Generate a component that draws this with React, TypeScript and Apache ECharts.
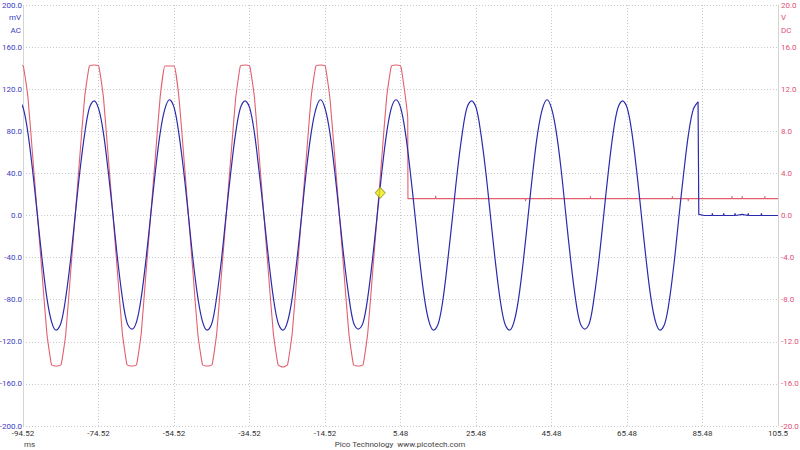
import React, { useEffect, useRef } from "react";
import * as echarts from "echarts";

// Time axis (ms)
const X_MIN = -94.52;
const X_MAX = 105.48;
const X_INTERVAL = 20;

// Channel A (blue, mV, AC) – samples every 1.25 ms starting at -95.7 ms
const BLUE_START = -95.7;
const BLUE_STEP = 1.25;
const blueValues = [
  110, 102, 78, 42, 0, -42, -78, -101, -109, -102, -78, -43, 0, 42, 77, 102,
  109, 101, 78, 42, 1, -42, -78, -102, -108, -101, -78, -42, 0, 42, 78, 101,
  110, 102, 77, 42, 0, -43, -78, -101, -109, -102, -77, -42, 1, 42, 78, 102,
  109, 102, 78, 41, 0, -42, -78, -102, -109, -101, -78, -42, 0, 43, 78, 101,
  110, 101, 78, 42, 0, -42, -77, -102, -108, -102, -78, -42, 0, 42, 78, 102,
  110, 102, 78, 42, 1, -42, -78, -101, -109, -102, -78, -41, 0, 42, 77, 102,
  109, 102, 77, 42, 0, -42, -78, -102, -109, -101, -78, -42, 0, 42, 78, 101,
  110, 101, 78, 43, 0, -42, -78, -102, -108, -102, -77, -42, 0, 42, 78, 102,
  109, 102, 78, 42, 0, -42, -78, -101, -109, -102, -78, -42, 1, 42, 78, 101,
  108,
];
// Channel A after the cut-off
const blueTailTimes = [84.42, 84.5, 86, 88, 88.1, 88.2, 90, 91, 91.1, 91.2, 93, 94, 94.1, 94.2, 96, 97.5, 97.6, 97.7, 99, 101, 101.1, 101.2, 103, 105.48];
const blueTailValues = [108, 1, 0, 0, 2, 0, 0, 0, 2, 0, 0, 0, 2, 0, 1, 0, 2, 0, 0, 0, 2, 0, 0, 0];

// Channel B (red, V, DC) – samples every 1.25 ms starting at -95.7 ms
const RED_START = -95.7;
const RED_STEP = 1.25;
const redValues = [
  14.3, 14.2, 11.2, 5.6, 0, -5.6, -11.2, -14.2, -14.3, -14.2, -11.3, -5.6, 0, 5.7, 11.2, 14.2,
  14.3, 14.2, 11.2, 5.6, 0.1, -5.6, -11.2, -14.2, -14.3, -14.2, -11.2, -5.5, 0, 5.6, 11.2, 14.2,
  14.2, 14.2, 11.2, 5.7, 0, -5.6, -11.3, -14.2, -14.3, -14.2, -11.2, -5.6, 0, 5.6, 11.1, 14.2,
  14.3, 14.2, 11.2, 5.6, 0, -5.7, -11.2, -14.2, -14.4, -14.2, -11.2, -5.6, 0.1, 5.6, 11.2, 14.2,
  14.3, 14.2, 11.1, 5.6, 0, -5.6, -11.2, -14.2, -14.3, -14.2, -11.2, -5.6, 0, 5.6, 11.2, 14.2,
  14.3, 14.2, 11.2,
];
// Channel B after the step
const redTailTimes = [
  7.4, 7.45, 14.7, 14.8, 14.9, 38.5, 38.6, 38.7, 55.7, 55.8, 55.9, 77.4, 77.5, 77.6,
  81.6, 81.7, 81.8, 93.2, 93.3, 93.4, 95.9, 96.0, 96.1, 101.9, 102.0, 102.1, 105.48,
];
const redTailValues = [
  9.2, 1.6, 1.6, 1.85, 1.6, 1.6, 1.4, 1.6, 1.6, 1.8, 1.6, 1.6, 1.8, 1.6,
  1.6, 1.4, 1.6, 1.6, 1.8, 1.6, 1.6, 1.8, 1.6, 1.6, 1.8, 1.6, 1.6,
];

// Trigger marker
const triggerTime = 0.1;
const triggerValue = 21.5;

// Axis ranges
const MV_MIN = -200;
const MV_MAX = 200;
const MV_INTERVAL = 40;
const V_MIN = -20;
const V_MAX = 20;
const V_INTERVAL = 4;

const BLUE = "#2a2aac";
const RED = "#e2606e";
const BLUE_LABEL = "#3b3bbf";
const RED_LABEL = "#df4f74";
const FONT = "Roboto";
const FS = 8;

function buildSampled(start: number, step: number, values: number[]) {
  return values.map((v, i) => [start + i * step - X_MIN, v]);
}
function buildPairs(times: number[], values: number[]) {
  return times.map((t, i) => [t - X_MIN, values[i]]);
}

export default function App() {
  const ref = useRef<HTMLDivElement>(null);
  useEffect(() => {
    if (!ref.current) return;
    const chart = echarts.init(ref.current, undefined, { renderer: "svg" });
    const blueData = buildSampled(BLUE_START, BLUE_STEP, blueValues);
    const blueTail = buildPairs(blueTailTimes, blueTailValues);
    const redData = buildSampled(RED_START, RED_STEP, redValues).concat(
      buildPairs(redTailTimes, redTailValues)
    );
    const gridColor = "#c9c9c9";
    const font = `${FS}px ${FONT}`;
    chart.setOption({
      animation: false,
      backgroundColor: "#ffffff",
      textStyle: { fontFamily: FONT },
      grid: {
        left: 23,
        right: 22,
        top: 5,
        bottom: 24,
        containLabel: false,
        outerBoundsMode: "none",
      },
      xAxis: {
        type: "value",
        min: 0,
        max: X_MAX - X_MIN,
        interval: X_INTERVAL,
        axisLine: { show: false },
        axisTick: { show: false },
        axisLabel: {
          color: "#333",
          fontSize: FS,
          lineHeight: 9,
          fontFamily: FONT,
          margin: 3,
          showMinLabel: true,
          showMaxLabel: true,
          formatter: (v: number) => {
            const t = v + X_MIN;
            if (Math.abs(t - X_MAX) < 0.001) return t.toFixed(1);
            return t.toFixed(2);
          },
        },
        splitLine: { show: true, lineStyle: { color: gridColor, type: [1, 2], width: 1 } },
      },
      yAxis: [
        {
          type: "value",
          position: "left",
          min: MV_MIN,
          max: MV_MAX,
          interval: MV_INTERVAL,
          axisLine: { show: true, lineStyle: { color: "#d4d4d4" } },
          axisTick: { show: false },
          axisLabel: {
            color: BLUE_LABEL,
            fontSize: FS,
            lineHeight: 9,
            fontFamily: FONT,
            margin: 1,
            showMinLabel: true,
            showMaxLabel: true,
            formatter: (v: number) => v.toFixed(1),
          },
          splitLine: { show: true, lineStyle: { color: gridColor, type: [1, 2], width: 1 } },
        },
        {
          type: "value",
          position: "right",
          min: V_MIN,
          max: V_MAX,
          interval: V_INTERVAL,
          axisLine: { show: true, lineStyle: { color: "#d4d4d4" } },
          axisTick: { show: false },
          axisLabel: {
            color: RED_LABEL,
            fontSize: FS,
            lineHeight: 9,
            fontFamily: FONT,
            margin: 3,
            showMinLabel: true,
            showMaxLabel: true,
            formatter: (v: number) => v.toFixed(1),
          },
          splitLine: { show: false },
        },
      ],
      series: [
        {
          type: "line",
          name: "B",
          yAxisIndex: 1,
          data: redData,
          showSymbol: false,
          symbol: "none",
          smooth: 0.12,
          lineStyle: { color: RED, width: 1.1 },
          itemStyle: { color: RED },
          clip: true,
          z: 2,
        },
        {
          type: "line",
          name: "A",
          yAxisIndex: 0,
          data: blueData,
          showSymbol: false,
          symbol: "none",
          smooth: 0.35,
          lineStyle: { color: BLUE, width: 1.2 },
          itemStyle: { color: BLUE },
          clip: true,
          z: 3,
        },
        {
          type: "line",
          name: "A tail",
          yAxisIndex: 0,
          data: [blueData[blueData.length - 1]].concat(blueTail),
          showSymbol: false,
          symbol: "none",
          lineStyle: { color: BLUE, width: 1.2 },
          itemStyle: { color: BLUE },
          clip: true,
          z: 3,
        },
        {
          type: "scatter",
          yAxisIndex: 0,
          data: [[triggerTime - X_MIN, triggerValue]],
          symbol: "diamond",
          symbolSize: [10, 11],
          itemStyle: { color: "#f0ee10", borderColor: "#9c9a2a", borderWidth: 1 },
          z: 5,
        },
      ],
      graphic: [
        { type: "text", x: 21, y: 13, style: { text: "mV", fill: BLUE_LABEL, font, align: "right" } },
        { type: "text", x: 21, y: 26, style: { text: "AC", fill: BLUE_LABEL, font, align: "right" } },
        { type: "text", x: 781, y: 13, style: { text: "V", fill: RED_LABEL, font } },
        { type: "text", x: 781, y: 26, style: { text: "DC", fill: RED_LABEL, font } },
        { type: "text", x: 24, y: 440, style: { text: "ms", fill: "#444", font, lineHeight: 9 } },
        {
          type: "text",
          x: 400,
          y: 440,
          style: { text: "Pico Technology  www.picotech.com", fill: "#444", font, align: "center", lineHeight: 9 },
        },
      ],
    });
    return () => chart.dispose();
  }, []);
  return (
    <div
      ref={ref}
      style={{ position: "fixed", left: 0, top: 0, width: 800, height: 450, background: "#fff" }}
    />
  );
}
